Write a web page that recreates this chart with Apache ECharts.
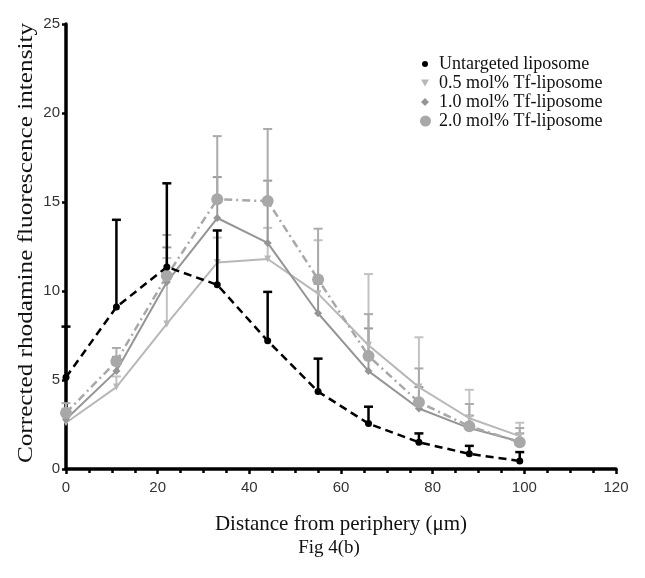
<!DOCTYPE html>
<html><head><meta charset="utf-8">
<script src="https://cdn.jsdelivr.net/npm/echarts@6/dist/echarts.min.js"></script>
<style>html,body{margin:0;padding:0;background:#fff}#c{width:645px;height:578px}</style>
</head><body><div id="c"></div>
<script>
const distances = [0, 11, 22, 33, 44, 55, 66, 77, 88, 99];
const seriesNames = ['Untargeted liposome', '0.5 mol% Tf-liposome', '1.0 mol% Tf-liposome', '2.0 mol% Tf-liposome'];
const untargeted = [5.15, 9.1, 11.35, 10.35, 7.2, 4.35, 2.55, 1.5, 0.85, 0.45];
const untargetedUpper = [8.0, 14.0, 16.05, 13.4, 9.95, 6.2, 3.5, 2.0, 1.3, 0.95];
const tf05 = [2.6, 4.6, 8.15, 11.6, 11.8, 9.85, 6.95, 4.6, 2.85, 1.85];
const tf05Upper = [3.4, 5.2, 11.85, 13.0, 13.55, 12.85, 10.95, 7.4, 4.45, 2.6];
const tf10 = [2.8, 5.5, 10.5, 14.1, 12.7, 8.75, 5.5, 3.4, 2.3, 1.55];
const tf10Upper = [3.3, 6.3, 12.45, 16.4, 16.2, 10.4, 7.9, 4.6, 3.0, 2.0];
const tf20 = [3.15, 6.05, 10.85, 15.15, 15.05, 10.65, 6.35, 3.75, 2.4, 1.5];
const tf20Upper = [3.7, 6.8, 13.15, 18.7, 19.1, 13.5, 8.7, 5.65, 3.65, 2.3];
const xTicks = [0, 20, 40, 60, 80, 100, 120];
const yTicks = [0, 5, 10, 15, 20, 25];
const xTitle = 'Distance from periphery (\u03bcm)';
const yTitle = 'Corrected rhodamine fluorescence intensity';
const caption = 'Fig 4(b)';

const chart = echarts.init(document.getElementById('c'));

function errSeries(vals, upper, color, w, z) {
  return {
    type: 'custom', z: z, silent: true,
    data: distances.map((d, i) => [d, vals[i], upper[i]]),
    renderItem: function (params, api) {
      const p0 = api.coord([api.value(0), api.value(1)]);
      const p1 = api.coord([api.value(0), api.value(2)]);
      return { type: 'group', children: [
        { type: 'line', shape: { x1: p0[0], y1: p0[1], x2: p1[0], y2: p1[1] }, style: { stroke: color, lineWidth: w } },
        { type: 'line', shape: { x1: p1[0] - 4.5, y1: p1[1], x2: p1[0] + 4.5, y2: p1[1] }, style: { stroke: color, lineWidth: w } }
      ]};
    }
  };
}
function lineSeries(name, vals, color, lineType, symbol, size, width, z) {
  return {
    name: name, type: 'line', z: z, data: distances.map((d, i) => [d, vals[i]]),
    symbol: symbol, symbolSize: size, showSymbol: true,
    lineStyle: { color: color, width: width, type: lineType },
    itemStyle: { color: color }
  };
}
const triDown = 'path://M0,0L10,0L5,9Z';
const legendIcons = ['circle', triDown, 'diamond', 'circle'];
const legendColors = ['#000', '#b8b8b8', '#959595', '#a8a8a8'];
const legendSizes = [6, 8, 8, 11];
const legendTops = [50, 69, 88, 107];
const legends = seriesNames.map((n, i) => {
  const s = legendSizes[i];
  const left = Math.round(420 - s / 2);
  const pad = 434 - (left + s + 5);
  return {
    orient: 'vertical', left: left, top: legendTops[i], itemWidth: s, itemHeight: s,
    textStyle: { fontFamily: 'Liberation Serif', fontSize: 18, lineHeight: 18, color: '#111', padding: [0, 0, 0, pad] },
    data: [{ name: n, icon: legendIcons[i], itemStyle: { color: legendColors[i] } }]
  };
});

chart.setOption({
  animation: false,
  backgroundColor: '#fff',
  grid: { left: 66, top: 24, width: 550, height: 445, containLabel: false },
  legend: legends,
  xAxis: {
    type: 'value', min: xTicks[0], max: xTicks[xTicks.length - 1], interval: 20,
    name: xTitle, nameLocation: 'middle', nameGap: 45,
    nameTextStyle: { fontFamily: 'Liberation Serif', fontSize: 21, color: '#111' },
    axisLine: { lineStyle: { color: '#000', width: 3.5 } },
    axisTick: { inside: false, length: 5, lineStyle: { color: '#000', width: 2.5 } },
    minorTick: { show: true, splitNumber: 4, length: 4, lineStyle: { color: '#000', width: 2.5 } },
    axisLabel: { fontFamily: 'Liberation Sans', fontSize: 15, color: '#333', margin: 11 },
    splitLine: { show: false }
  },
  yAxis: {
    type: 'value', min: yTicks[0], max: yTicks[yTicks.length - 1], interval: 5,
    axisLine: { show: true, lineStyle: { color: '#000', width: 3.5 } },
    axisTick: { show: true, inside: false, length: 4, lineStyle: { color: '#000', width: 2.5 } },
    axisLabel: { fontFamily: 'Liberation Sans', fontSize: 15, color: '#333', margin: 6 },
    splitLine: { show: false }
  },
  graphic: [
    { type: 'text', x: 27, y: 243, rotation: Math.PI / 2, scaleX: 1.26, scaleY: 1,
      style: { text: yTitle, font: '20px "Liberation Serif"', fill: '#111', textAlign: 'center', textVerticalAlign: 'middle' } },
    { type: 'text', x: 329, y: 548,
      style: { text: caption, font: '19px "Liberation Serif"', fill: '#111', textAlign: 'center', textVerticalAlign: 'middle' } }
  ],
  series: [
    errSeries(tf05, tf05Upper, '#c2c2c2', 2, 1),
    errSeries(tf10, tf10Upper, '#9a9a9a', 2, 1),
    errSeries(tf20, tf20Upper, '#ababab', 2, 1),
    lineSeries(seriesNames[1], tf05, '#b8b8b8', 'solid', triDown, 7, 2, 2),
    lineSeries(seriesNames[2], tf10, '#959595', 'solid', 'diamond', 8, 2, 3),
    lineSeries(seriesNames[3], tf20, '#a8a8a8', [8, 4, 2, 4], 'circle', 12, 2.5, 4),
    errSeries(untargeted, untargetedUpper, '#000', 2.5, 5),
    lineSeries(seriesNames[0], untargeted, '#000', [8, 5], 'circle', 7, 2.5, 6)
  ]
});
</script></body></html>
